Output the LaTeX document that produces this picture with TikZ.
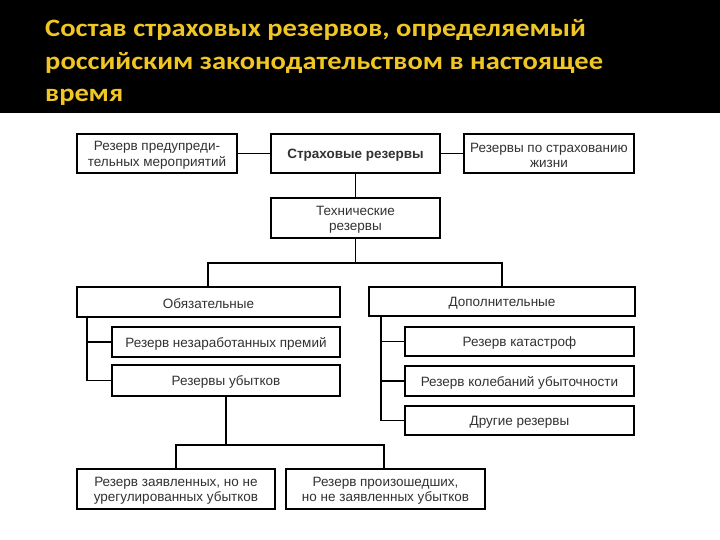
\documentclass[tikz,border=0pt]{standalone}
\usepackage{fontspec}
\setmainfont{Liberation Sans}
\newfontfamily\titlefont[FakeStretch=1.14]{Carlito}
\usetikzlibrary{shadows}
\definecolor{ttl}{RGB}{240,198,36}
\definecolor{txt}{RGB}{50,50,50}
\tikzset{
  box/.style={draw=black, line width=1.1pt, fill=white, inner sep=0pt,
    drop shadow={shadow xshift=1.2pt, shadow yshift=-1.2pt, opacity=0.6, fill=black}},
  boxtext/.style={text=txt, align=center, inner sep=0pt, font=\fontsize{13.5}{15.5}\selectfont},
  conn/.style={draw=black, line width=1.3pt},
  ttlstyle/.style={text=ttl, anchor=base west, inner sep=0pt, font=\titlefont\bfseries\fontsize{25}{30}\selectfont}
}
\newcommand{\bx}[6]{% name, x1, y1, x2, y2, text
  \node[box, minimum width={#4pt-#2pt}, minimum height={#5pt-#3pt}] (#1) at ({(#2+#4)/2}, {(#3+#5)/2}) {};
  \node[boxtext] (#1-t) at ([yshift=-1.8pt]#1.center) {#6};}
\begin{document}
\begin{tikzpicture}[x=1pt, y=-1pt]
\useasboundingbox (0,0) rectangle (720,540);
\fill[white] (0,0) rectangle (720,540);
\fill[black] (0,0) rectangle (720,113);
\node[ttlstyle] (t1) at (45,37) {Состав страховых резервов, определяемый};
\node[ttlstyle] (t2) at (45,69.5) {российским законодательством в настоящее};
\node[ttlstyle] (t3) at (45,102) {время};

\bx{pred}{77}{134}{237}{173}{Резерв предупреди-\\тельных мероприятий}
\bx{main}{271}{134}{440}{173}{\bfseries Страховые резервы}
\bx{life}{464}{134}{634}{173}{Резервы по страхованию\\жизни}
\bx{tech}{271}{198}{440}{238}{Технические\\резервы}
\bx{obl}{77}{287}{340}{317}{Обязательные}
\bx{dop}{369}{287}{635}{316}{Дополнительные}
\bx{prem}{112}{327}{340}{357}{Резерв незаработанных премий}
\bx{ubyt}{112}{365}{340}{396}{Резервы убытков}
\bx{kat}{405}{327}{634}{356}{Резерв катастроф}
\bx{kol}{405}{366}{634}{396}{Резерв колебаний убыточности}
\bx{dr}{405}{406}{634}{435}{Другие резервы}
\bx{zay}{77}{469}{275}{509}{Резерв заявленных, но не\\урегулированных убытков}
\bx{proi}{286}{469}{485}{509}{Резерв произошедших,\\но не заявленных убытков}

\coordinate (h1) at (208,263);
\coordinate (h2) at (502,263);
\coordinate (h3) at (176,445);
\coordinate (h4) at (384,445);
\coordinate (sL) at (87,317);
\coordinate (sR) at (381,316);

\draw[conn] (pred.east) -- (main.west);
\draw[conn] (main.east) -- (life.west);
\draw[conn] (main.south) -- (tech.north);
\draw[conn] (tech.south) -- (tech.south |- h1);
\draw[conn] (h1 |- obl.north) -- (h1) -- (h2) -- (h2 |- dop.north);
\draw[conn] (sL) -- (sL |- ubyt.west) -- (ubyt.west);
\draw[conn] (sL |- prem.west) -- (prem.west);
\draw[conn] (sR) -- (sR |- dr.west) -- (dr.west);
\draw[conn] (sR |- kat.west) -- (kat.west);
\draw[conn] (sR |- kol.west) -- (kol.west);
\draw[conn] (226,396) -- (226,445);
\draw[conn] (h3 |- zay.north) -- (h3) -- (h4) -- (h4 |- proi.north);
\end{tikzpicture}
\end{document}
